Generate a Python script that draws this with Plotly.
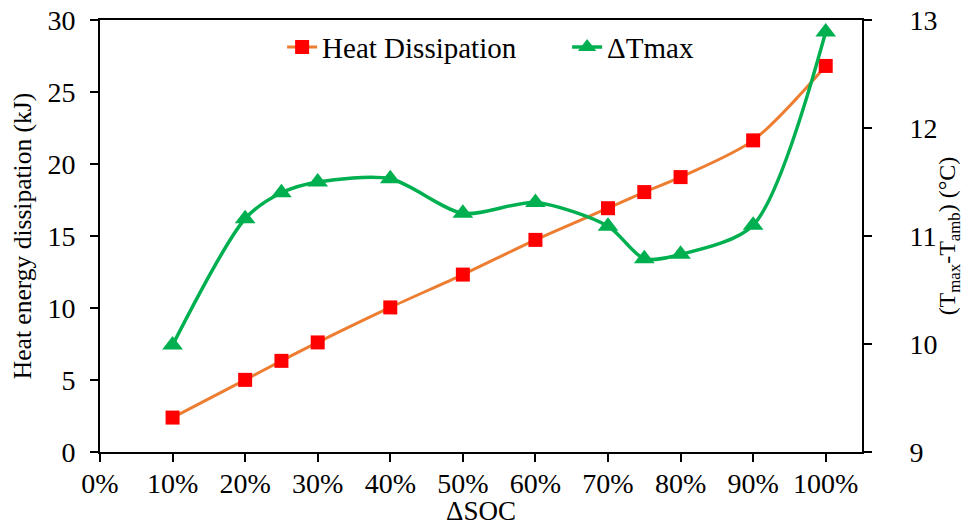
import plotly.graph_objects as go

soc = [0.10, 0.20, 0.25, 0.30, 0.40, 0.50, 0.60, 0.70, 0.75, 0.80, 0.90, 1.00]
heat_kj = [2.39, 5.01, 6.33, 7.61, 10.04, 12.32, 14.73, 16.93, 18.05, 19.09, 21.64, 26.81]
delta_tmax = [9.99, 11.16, 11.40, 11.50, 11.53, 11.21, 11.31, 11.09, 10.79, 10.83, 11.10, 12.89]

FONT = "Liberation Serif, Times New Roman, serif"

fig = go.Figure()
fig.add_trace(go.Scatter(
    x=soc, y=heat_kj, name="Heat Dissipation", mode="lines+markers",
    line=dict(color="#ED7D31", width=3, shape="spline", smoothing=0.8),
    marker=dict(symbol="square", size=14, color="#FF0000"),
))
fig.add_trace(go.Scatter(
    x=soc, y=delta_tmax, name="ΔTmax", mode="lines+markers", yaxis="y2",
    line=dict(color="#00B050", width=3.5, shape="spline", smoothing=0.8),
    marker=dict(symbol="triangle-up", size=18, color="#00B050"),
))

axis_common = dict(showline=True, linecolor="black", linewidth=2,
                   ticks="outside", ticklen=8, tickwidth=2, tickcolor="black",
                   showgrid=False, zeroline=False, automargin=False)

fig.update_layout(
    width=964, height=526,
    margin=dict(l=100, r=102, t=20, b=74),
    paper_bgcolor="white", plot_bgcolor="white",
    font=dict(family=FONT, size=28, color="black"),
    showlegend=True,
    legend=dict(orientation="h", x=0.239, y=0.937, xanchor="left", yanchor="middle",
                bgcolor="rgba(0,0,0,0)", font=dict(size=29),
                entrywidth=240, entrywidthmode="pixels"),
    xaxis=dict(range=[0, 1.05], tick0=0, dtick=0.1, tickformat=".0%", mirror=True,
               ticklabelstandoff=-3,
               title=dict(text="ΔSOC", font=dict(size=27), standoff=0),
               **axis_common),
    yaxis=dict(range=[0, 30], dtick=5, ticklabelstandoff=9,
               title=dict(text="Heat energy dissipation (kJ)", font=dict(size=25.5), standoff=8),
               **axis_common),
    yaxis2=dict(range=[9, 13], dtick=1, overlaying="y", side="right", ticklabelstandoff=32,
                title=dict(text="(T<sub>max</sub>-T<sub>amb</sub>) (°C)", font=dict(size=24), standoff=14),
                **axis_common),
)

fig.write_html("out.html", config={"displayModeBar": False},
               post_script="document.body.style.margin='0px';document.body.style.overflow='hidden';")
